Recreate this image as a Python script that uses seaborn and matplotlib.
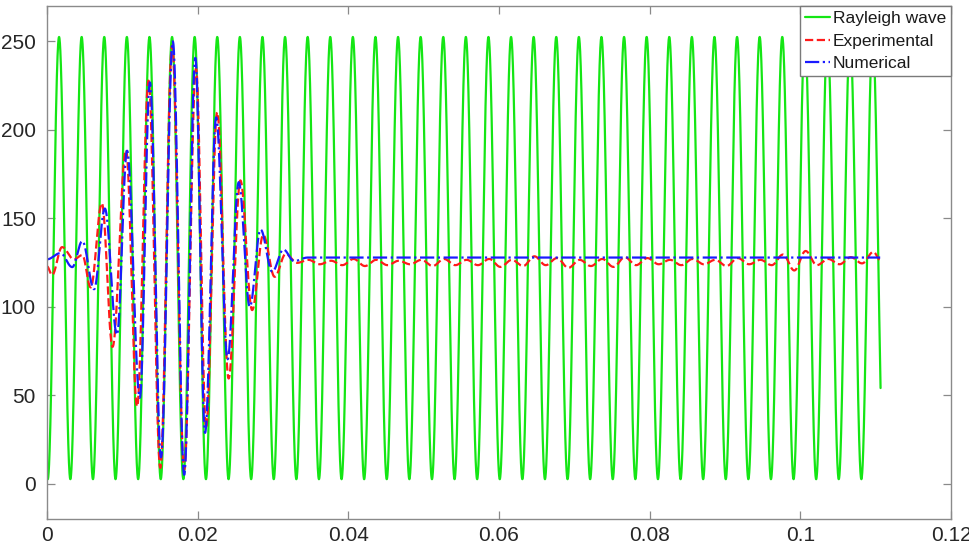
import numpy as np
import pandas as pd
import matplotlib
matplotlib.use("Agg")
import matplotlib.pyplot as plt
import seaborn as sns

# Reference Rayleigh wave: a steady sinusoid (parameters)
rayleigh_offset = 127.5
rayleigh_amplitude = 125.0
rayleigh_period = 0.0030
rayleigh_first_peak = 0.0016
rayleigh_end = 0.11065

# Experimental signal: times and values of successive extrema
exp_t = [0.0, 0.00067, 0.0020, 0.00357, 0.00469, 0.0058, 0.00728, 0.0087,
         0.01049, 0.01196, 0.01348, 0.01504, 0.01661, 0.01821, 0.01978,
         0.02112, 0.02259, 0.02411, 0.02567, 0.02723, 0.0287, 0.03022,
         0.03169, 0.0332,
         0.0347, 0.0362, 0.0377, 0.0392, 0.0407, 0.0422, 0.0437, 0.0452,
         0.0467, 0.0482, 0.0497, 0.0512, 0.0527, 0.0542, 0.0557, 0.0572,
         0.0587, 0.0602, 0.0617, 0.0632, 0.0647, 0.0662, 0.0677, 0.0692,
         0.0707, 0.0722, 0.0737, 0.0752, 0.0767, 0.0782, 0.0797, 0.0812,
         0.0827, 0.0842, 0.0857, 0.0872, 0.0887, 0.0902, 0.0917, 0.0932,
         0.0947, 0.0962, 0.0977, 0.0992, 0.1007, 0.1022, 0.1037, 0.1052,
         0.1067, 0.1082, 0.1097, 0.1106]
exp_v = [122.8, 117.9, 133.7, 126.8, 129.2, 110.9, 158.5, 77.3,
         188.6, 43.6, 227.8, 8.9, 247.6, 7.9, 234.7,
         31.7, 210.0, 59.4, 171.4, 98.1, 140.6, 116.9,
         129.8, 124.8,
         126.5, 124.0, 126.0, 123.5, 127.0, 123.0, 126.5, 123.5,
         126.0, 124.0, 126.5, 123.0, 127.0, 123.5, 126.5, 123.5,
         127.0, 122.5, 126.5, 123.0, 128.5, 123.5, 127.5, 122.0,
         126.5, 123.0, 127.0, 122.5, 128.0, 123.5, 127.5, 124.0,
         126.5, 123.5, 127.0, 124.0, 126.5, 123.0, 127.5, 124.0,
         126.5, 123.5, 129.5, 120.5, 131.5, 123.5, 127.0, 124.0,
         128.0, 124.5, 131.0, 126.5]

# Numerical signal: times and values of successive extrema
num_t = [0.0, 0.00179, 0.00335, 0.00469, 0.00625, 0.00768, 0.00929, 0.01063,
         0.01232, 0.01366, 0.01513, 0.0167, 0.01821, 0.01969, 0.02098,
         0.02246, 0.02397, 0.02545, 0.02692, 0.02835, 0.0299, 0.03138,
         0.0328, 0.0346, 0.1106]
num_v = [126.8, 130.3, 122.4, 137.1, 109.9, 155.5, 84.2, 188.2,
         48.5, 226.8, 14.9, 250.0, 5.0, 240.7, 28.7,
         207.0, 70.3, 170.4, 100.0, 143.6, 119.8, 132.3,
         125.8, 127.8, 127.8]

x_ticks = [0, 0.02, 0.04, 0.06, 0.08, 0.1, 0.12]
x_tick_labels = ["0", "0.02", "0.04", "0.06", "0.08", "0.1", "0.12"]
y_ticks = [0, 50, 100, 150, 200, 250]


def smooth_through_extrema(times, values, per_segment=40):
    """Join successive extrema with half-cosine arcs (zero slope at each extremum)."""
    ts, vs = [], []
    for i in range(len(times) - 1):
        t0, t1 = times[i], times[i + 1]
        v0, v1 = values[i], values[i + 1]
        s = np.linspace(0.0, 1.0, per_segment, endpoint=False)
        ts.append(t0 + (t1 - t0) * s)
        vs.append(v0 + (v1 - v0) * (1 - np.cos(np.pi * s)) / 2)
    ts.append([times[-1]])
    vs.append([values[-1]])
    return np.concatenate(ts), np.concatenate(vs)


t_ray = np.linspace(0.0, rayleigh_end, 6000)
v_ray = rayleigh_offset + rayleigh_amplitude * np.cos(
    2 * np.pi * (t_ray - rayleigh_first_peak) / rayleigh_period)
t_exp, v_exp = smooth_through_extrema(exp_t, exp_v)
t_num, v_num = smooth_through_extrema(num_t, num_v)

df_ray = pd.DataFrame({"t": t_ray, "v": v_ray})
df_exp = pd.DataFrame({"t": t_exp, "v": v_exp})
df_num = pd.DataFrame({"t": t_num, "v": v_num})

sns.set_theme(style="white")
plt.rcParams["font.family"] = ["Liberation Sans", "DejaVu Sans"]

fig = plt.figure(figsize=(9.70, 5.49), dpi=100)
ax = fig.add_axes([47 / 970, 1 - 519 / 549, (951 - 47) / 970, (519 - 6) / 549])

sns.lineplot(data=df_ray, x="t", y="v", ax=ax, color="#14e614", linewidth=1.6,
             estimator=None, sort=False, label="Rayleigh wave")
sns.lineplot(data=df_exp, x="t", y="v", ax=ax, color="#ff1a1a", linewidth=1.6,
             linestyle="--", estimator=None, sort=False, label="Experimental")
sns.lineplot(data=df_num, x="t", y="v", ax=ax, color="#1a1aff", linewidth=1.6,
             linestyle="-.", estimator=None, sort=False, label="Numerical")

ax.set_xlim(0, 0.12)
ax.set_ylim(-20, 270)
ax.set_xticks(x_ticks)
ax.set_xticklabels(x_tick_labels)
ax.set_yticks(y_ticks)
ax.set_xlabel("")
ax.set_ylabel("")

for side in ["left", "right", "top", "bottom"]:
    ax.spines[side].set_visible(True)
    ax.spines[side].set_color("#8a8a8a")
    ax.spines[side].set_linewidth(1.0)
ax.tick_params(axis="x", which="major", pad=5)
ax.tick_params(axis="y", which="major", pad=8)
ax.tick_params(axis="both", which="major", direction="in", length=6,
               width=0.9, color="#8a8a8a", labelsize=15, labelcolor="#262626",
               top=True, right=True, bottom=True, left=True)

leg = ax.legend(loc="upper right", borderaxespad=0.0, fontsize=12.5,
                frameon=True, fancybox=False, framealpha=1.0,
                edgecolor="#7a7a7a", handlelength=1.45, handletextpad=0.15,
                labelspacing=0.42, borderpad=0.3)
leg.get_frame().set_linewidth(1.0)
for txt in leg.get_texts():
    txt.set_color("#1a1a1a")

fig.savefig("out.png", dpi=100)
